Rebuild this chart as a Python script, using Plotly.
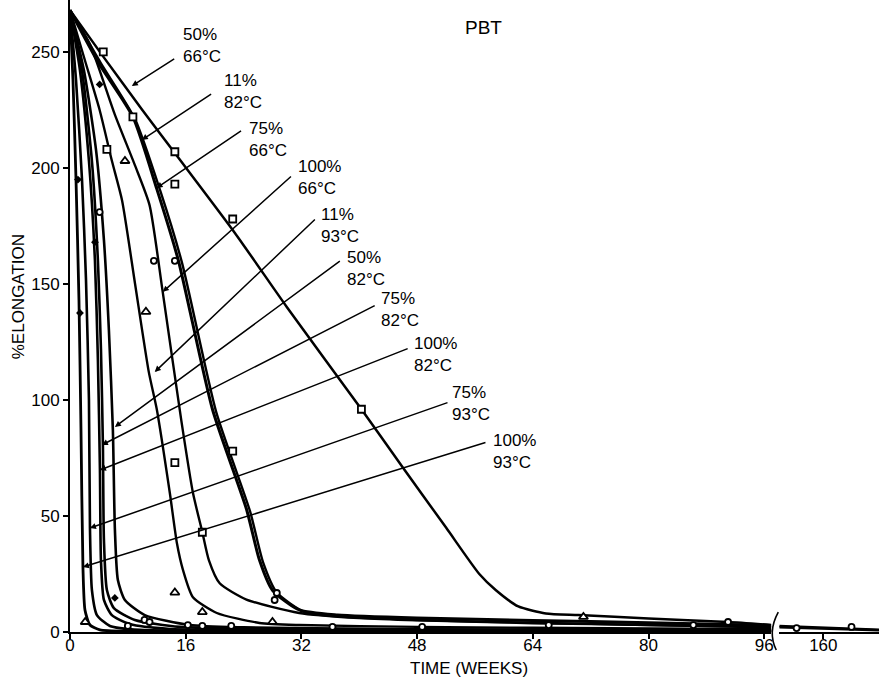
import plotly.graph_objects as go

# ---------------- data (weeks, % elongation) ----------------
w_50_66 = [0, 4.6, 10, 14.6, 22.8, 30, 40.3, 46, 52, 56.6, 58.9, 62, 65.8, 70.3, 80, 91, 97]
v_50_66 = [268, 248, 225, 206, 172, 140, 96, 71, 45, 25, 18, 11, 8, 7.3, 5.8, 4.3, 3]
w_50_66_b = [153.9, 160, 167.7]
v_50_66_b = [2.6, 1.8, 1.0]

w_11_82 = [0, 4, 8.7, 12, 15, 19.7, 24.4, 26.2, 28, 31.7, 37, 48, 64, 80, 97]
v_11_82 = [268, 245, 222, 191, 160, 96, 53, 31, 18, 9.5, 7.3, 6, 5, 4, 2.8]
w_11_82_b = [153.9, 160, 167.7]
v_11_82_b = [2.0, 1.5, 0.8]

w_75_66 = [0, 4.3, 9, 12.5, 15.5, 20.2, 24.9, 26.7, 28.6, 32.5, 38, 48, 64, 80, 97]
v_75_66 = [268, 245, 221, 190, 159, 95, 52, 30, 17, 8.5, 6.5, 5.2, 4, 3, 2.2]

w_100_66 = [0, 2.8, 6.2, 9, 11, 12.8, 15.4, 17, 18.3, 19.2, 20.7, 24.4, 31.7, 40, 48, 64, 80, 97]
v_100_66 = [268, 253, 223, 201, 184, 147, 91, 60, 43, 31, 21, 14, 8.2, 6, 5, 3.8, 3, 2]

w_11_93 = [0, 2.1, 4.1, 5.8, 7.2, 9.0, 10.9, 12.0, 13.8, 14.8, 15.6, 17, 20.3, 26.2, 31.7, 48, 64, 97]
v_11_93 = [268, 246, 225, 203, 186, 150, 112, 96, 60, 38, 27, 15, 8.2, 3.9, 3, 2.2, 1.8, 1.2]

w_50_82 = [0, 1.93, 3.59, 4.69, 5.38, 5.93, 6.21, 6.62, 7.59, 10.34, 16.55, 24, 48, 97]
v_50_82 = [268, 242, 208, 169, 130, 87, 44, 22.4, 13.8, 7.3, 3.0, 2.0, 1.2, 0.8]

w_75_82 = [0, 1.66, 3.03, 3.86, 4.28, 4.55, 4.69, 5.1, 6.07, 8.97, 15.2, 30, 60, 97]
v_75_82 = [268, 242, 203, 160, 122, 80.6, 39.7, 18.1, 10.3, 5.2, 2.2, 1.4, 1.0, 0.6]

w_100_82 = [0, 1.38, 2.62, 3.45, 3.86, 4.14, 4.28, 4.69, 5.79, 8.28, 13.8, 30, 60, 97]
v_100_82 = [268, 242, 203, 160, 117, 69.8, 31, 13.8, 7.3, 3.4, 1.3, 0.9, 0.6, 0.4]

w_75_93 = [0, 0.83, 1.66, 2.21, 2.62, 2.76, 3.03, 3.72, 5.52, 9.66, 30, 97]
v_75_93 = [268, 238, 195, 152, 100, 44.8, 18.1, 7.3, 2.6, 0.9, 0.5, 0.3]

w_100_93 = [0, 0.41, 0.83, 1.24, 1.52, 1.79, 2.07, 2.76, 4.14, 8.28, 30, 97]
v_100_93 = [268, 238, 195, 143, 87, 28, 9.5, 3.0, 0.9, 0.3, 0.2, 0.1]

# data points (open symbols)
square_w = [4.6, 8.7, 14.5, 14.5, 5.1, 22.5, 40.3, 22.5, 14.5, 18.3]
square_v = [250, 222, 207, 193, 208, 178, 96, 78, 73, 43]
triangle_w = [7.6, 10.5, 14.5, 18.3, 28, 2.1, 71]
triangle_v = [203, 138, 17, 8.6, 4.3, 4.3, 6.5]
circle_w = [4.1, 11.6, 14.5, 28.6, 28.3, 10.3, 16.3, 18.3, 22.3, 8, 11, 36.3, 48.7, 66.2, 86.2, 91]
circle_v = [181, 160, 160, 16.8, 13.8, 5.2, 3, 2.6, 2.6, 2.6, 4.3, 2.2, 2.2, 3, 3, 4.3]
circle_w_b = [156.3, 163.9]
circle_v_b = [1.7, 2.2]
diamond_w = [3.45, 1.38, 1.1, 4.1, 6.2]
diamond_v = [168, 137.5, 195, 236, 14.7]

labels = ["50%<br>66°C", "11%<br>82°C", "75%<br>66°C", "100%<br>66°C", "11%<br>93°C",
          "50%<br>82°C", "75%<br>82°C", "100%<br>82°C", "75%<br>93°C", "100%<br>93°C"]
x_ticks = [0, 16, 32, 48, 64, 80, 96]
x2_ticks = [160]
y_ticks = [0, 50, 100, 150, 200, 250]

# ---------------- layout helpers (label placement) ----------------
leader_pt = [(8.55, 235.3), (9.93, 212.1), (11.97, 191.4), (12.83, 146.6), (11.72, 112.1),
             (6.21, 88.4), (4.41, 80.6), (4.14, 69.8), (2.76, 44.8), (1.79, 28.0)]
leader_end = [(14.62, 247.4), (19.72, 232.3), (23.86, 216.4), (30.76, 196.9), (34.07, 178.4),
              (37.52, 160.3), (42.34, 141.0), (46.90, 122.4), (52.41, 99.1), (57.66, 81.9)]
label_pos = [(15.31, 253.0), (20.97, 232.8), (24.41, 212.1), (31.31, 196.1), (34.48, 175.4),
             (38.07, 156.5), (42.76, 138.8), (47.31, 119.4), (52.55, 98.7), (58.21, 78.0)]

FONT = "Liberation Sans, Arial, sans-serif"
fig = go.Figure()

main_series = [
    (w_50_66, v_50_66, 2.5), (w_11_82, v_11_82, 3.0), (w_75_66, v_75_66, 2.4),
    (w_100_66, v_100_66, 2.4), (w_11_93, v_11_93, 2.4), (w_50_82, v_50_82, 2.6),
    (w_75_82, v_75_82, 2.6), (w_100_82, v_100_82, 2.6), (w_75_93, v_75_93, 2.6),
    (w_100_93, v_100_93, 2.8),
]
for w, v, lw in main_series:
    fig.add_trace(go.Scatter(x=w, y=v, mode="lines", line=dict(color="black", width=lw, shape="spline", smoothing=0.6),
                             xaxis="x", yaxis="y", showlegend=False, hoverinfo="skip"))
for w, v in [(w_50_66_b, v_50_66_b), (w_11_82_b, v_11_82_b)]:
    fig.add_trace(go.Scatter(x=w, y=v, mode="lines", line=dict(color="black", width=2.5),
                             xaxis="x2", yaxis="y", showlegend=False, hoverinfo="skip"))

mk = dict(color="white", line=dict(color="black", width=1.8))
fig.add_trace(go.Scatter(x=square_w, y=square_v, mode="markers", xaxis="x", yaxis="y", showlegend=False,
                         marker=dict(symbol="square", size=7, **mk)))
fig.add_trace(go.Scatter(x=triangle_w, y=triangle_v, mode="markers", xaxis="x", yaxis="y", showlegend=False,
                         marker=dict(symbol="triangle-up", size=8, **mk)))
fig.add_trace(go.Scatter(x=circle_w, y=circle_v, mode="markers", xaxis="x", yaxis="y", showlegend=False,
                         marker=dict(symbol="circle", size=6, **mk)))
fig.add_trace(go.Scatter(x=circle_w_b, y=circle_v_b, mode="markers", xaxis="x2", yaxis="y", showlegend=False,
                         marker=dict(symbol="circle", size=6, **mk)))
fig.add_trace(go.Scatter(x=diamond_w, y=diamond_v, mode="markers", xaxis="x", yaxis="y", showlegend=False,
                         marker=dict(symbol="diamond", size=6, color="black")))

annotations = []
for (px, py), (ex, ey), (tx, ty), lab in zip(leader_pt, leader_end, label_pos, labels):
    annotations.append(dict(x=px, y=py, ax=ex, ay=ey, xref="x", yref="y", axref="x", ayref="y",
                            text="", showarrow=True, arrowhead=2, arrowsize=0.8, arrowwidth=1.5,
                            arrowcolor="black"))
    annotations.append(dict(x=tx, y=ty, xref="x", yref="y", text=lab, showarrow=False,
                            xanchor="left", yanchor="middle", align="left",
                            font=dict(size=17, color="black", family=FONT)))

annotations.append(dict(x=0.5117, y=0.956, xref="paper", yref="paper", text="PBT", showarrow=False,
                        xanchor="center", yanchor="middle",
                        font=dict(size=19, color="black", family=FONT)))
annotations.append(dict(x=0.493, y=-0.057, xref="paper", yref="paper", text="TIME (WEEKS)", showarrow=False,
                        xanchor="center", yanchor="middle",
                        font=dict(size=17, color="black", family=FONT)))
annotations.append(dict(x=-0.064, y=0.53, xref="paper", yref="paper", text="%ELONGATION", showarrow=False,
                        textangle=-90, xanchor="center", yanchor="middle",
                        font=dict(size=17, color="black", family=FONT)))

axis_common = dict(showline=True, linecolor="black", linewidth=1.8, ticks="outside", ticklen=5,
                   tickwidth=1.6, tickcolor="black", showgrid=False, zeroline=False,
                   tickfont=dict(size=17, color="black", family=FONT))

fig.update_layout(
    width=881, height=685,
    margin=dict(l=70, r=0, t=0, b=53),
    paper_bgcolor="white", plot_bgcolor="white",
    xaxis=dict(domain=[0, 0.8668], range=[0, 96.97], tickvals=x_ticks, anchor="y",
               ticklabelstandoff=-8, **axis_common),
    xaxis2=dict(domain=[0.8767, 1], range=[153.9, 167.7], tickvals=x2_ticks, anchor="y",
                ticklabelstandoff=-8, **axis_common),
    yaxis=dict(range=[0, 272.4], tickvals=y_ticks, anchor="x", **axis_common),
    annotations=annotations,
    shapes=[dict(type="path", xref="paper", yref="paper",
                 path="M 0.8755,0.0316 Q 0.862,0.0 0.8730,-0.0285",
                 line=dict(color="black", width=1.6))],
)

fig.write_html("out.html")
